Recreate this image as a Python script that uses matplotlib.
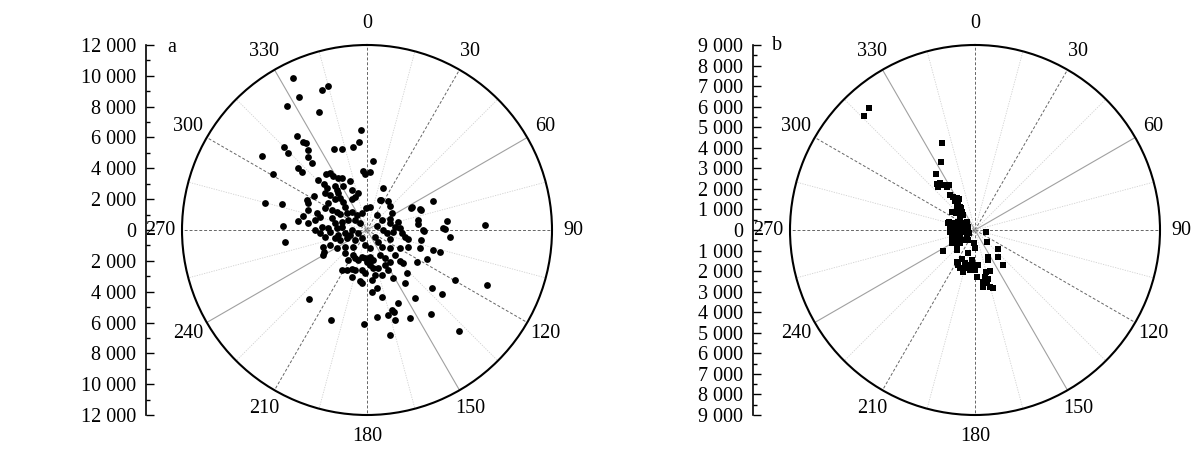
import numpy as np
import matplotlib.pyplot as plt
from matplotlib.ticker import MultipleLocator, FuncFormatter

# a: east / north offsets (m) of the points
east_a = [-4810, -2925, -2535, -4420, -5200, -3120, -390, -4550, -4160, -3965,
          -5395, -5135, -3835, -3835, -3575, -2145, -1625, -910, -520, -6825,
          390, -6110, -4485, -4225, -260, -130, -6630, -5525, -5460, -4485,
          4290, 2925, 3445, 5200, 4940, 5070, 7670, 1040, 845, 1365,
          1625, 3315, 3640, -3185, -2665, -2405, -2210, -1885, -1625, -1105,
          -1560, -2795, -2600, -2730, -2080, -1950, -1885, -975, -585, -3445,
          -3900, -3835, -2405, -2080, -1755, -1560, -1430, -2535, -2730, -2275,
          -1950, -975, -780, -3835, -3250, -3055, -3380, -3835, -4160, -1755,
          -1300, -975, -650, -325, 195, -65, -2275, -2080, -1625, -1235,
          -780, -455, -2925, -2535, -1950, -1625, -975, -3380, -3055, -5330,
          -2730, -2080, -1755, -1300, -780, -325, -2405, -1950, -1430, -910,
          -130, 195, 195, 910, 1495, 2860, 3510, 650, 975, 1495,
          1495, 2015, 1820, 2145, 650, 1040, 1300, 1690, 3315, 3705,
          5395, 2275, 2470, 2665, 1495, 715, 520, 3510, 975, 1495,
          2145, 2665, 3445, 4290, 4745, -2860, -2795, -2860, -1430, -1235,
          -910, -780, -585, -325, -130, 65, 195, 390, 0, 195,
          390, -1625, -1300, -975, -780, -325, -130, -975, -455, -325,
          325, 325, -3770, -2340, -195, 650, 1365, 1625, 1755, 2015,
          1495, 2795, 3120, 4225, 4160, 4875, 5980, 5720, 7800, 2600,
          2340, 3900, 3250, 2145, 1690, 2470, 650, 975, 1820, 845,
          1170, 1495, 1820, 1170, 715, 975, 1365, 520, -1105, -585,
          -1430, -2405, -1885]
north_a = [9880, 9100, 9360, 8645, 8060, 7670, 6500, 6110, 5720, 5655,
           5395, 5005, 5200, 4745, 4355, 5265, 5265, 5395, 5720, 4810,
           4485, 3640, 4030, 3770, 3835, 3640, 1755, 1690, 260, 585,
           1885, 1495, 1365, 585, 130, 65, 325, 2730, 1950, 1885,
           1105, 650, 0, 3250, 3640, 3705, 3510, 3380, 3380, 3185,
           2860, 2990, 2730, 2405, 2860, 2600, 2405, 2600, 2405, 2210,
           1950, 1755, 2275, 2015, 2080, 1820, 1495, 1755, 1430, 1300,
           1170, 2015, 2145, 1300, 1105, 845, 650, 455, 910, 1040,
           1105, 1170, 975, 1105, 1495, 1430, 780, 455, 520, 650,
           650, 455, 195, 130, 130, 195, 0, 0, -195, -780,
           -455, -520, -650, -520, -650, -520, -975, -1170, -1105, -1105,
           -975, -1170, 3770, 1950, 1560, 1430, 1300, 975, 650, 715,
           455, 520, 195, 130, 260, 0, -195, -130, 390, -65,
           -455, -195, -455, -585, -585, -780, -455, -650, -1105, -1170,
           -1170, -1105, -1170, -1300, -1430, -1105, -1430, -1625, -1495, -1950,
           -1625, -1820, -1950, -1755, -1820, -1885, -1755, -1950, -2080, -2275,
           -2470, -2600, -2600, -2535, -2600, -2600, -2795, -3055, -3315, -3445,
           -3250, -4030, -4485, -5850, -6110, -5655, -5525, -5200, -5330, -4745,
           -6825, -5720, -4420, -3770, -5460, -4160, -6565, -3250, -3575, -2795,
           -2145, -1885, -2080, -2015, -3120, -3445, -3770, -4355, -5850, -1625,
           -1820, -2080, -1625, -2275, -2470, -2925, -2600, -2925, -325, -195,
           -195, -130, -325]

# b: east / north offsets (m)
east_b = [-5152, -5395, -1604, -1652, -1895, -1847, -1701, -1507, -1361, -1264,
          -1798, -1215, -1069, -875, -972, -826, -875, -729, -1118, -923,
          -729, -583, -1264, -1069, -826, -583, -389, -1069, -826, -583,
          -340, -1215, -972, -729, -486, -292, -389, -1118, -875, -729,
          -972, -1118, -875, -729, -486, -340, -875, -1555, 535, 583,
          1118, 1118, 1361, -49, 0, -340, 632, 632, -875, -632,
          -486, -826, -729, -486, -340, -583, -146, -97, -243, 0,
          146, 97, 535, 729, 486, 632, 389, 583, 729, 389,
          875, -778, -680, -875, -632, -729, -1215, -1312]
north_b = [5929, 5540, 4228, 3305, 2722, 2236, 2284, 2187, 2090, 2187,
           2090, 1701, 1604, 1555, 1409, 1361, 1215, 1118, 875, 826,
           826, 729, 389, 340, 389, 340, 389, 146, 97, 97,
           146, -97, -97, -97, -97, -146, -292, -340, -340, -389,
           -583, -632, -729, -632, -486, -486, -972, -1021, -97, -583,
           -923, -1312, -1701, -632, -875, -1118, -1312, -1458, -1555, -1409,
           -1604, -1701, -1847, -1847, -1701, -2041, -1458, -1701, -1944, -1944,
           -1701, -2284, -2041, -1993, -2284, -2381, -2527, -2576, -2770, -2770,
           -2819, 1507, 1069, 972, 875, 583, 146, 340]

angle_labels = list(range(0, 360, 30))

plt.rcParams['font.family'] = 'Liberation Serif'
plt.rcParams['font.size'] = 14.5

W, H = 1193, 465
fig = plt.figure(figsize=(W / 100, H / 100), dpi=100)


def fmt(v, pos):
    return f"{abs(int(round(v))):,}".replace(',', ' ')


def draw_panel(cx, cy, rad, axis_x, rmax, major, minor, east, north,
               marker, size, letter, letter_xy):
    box = [(cx - rad) / W, (H - cy - rad) / H, 2 * rad / W, 2 * rad / H]
    ax = fig.add_axes(box, projection='polar')
    ax.set_theta_zero_location('N')
    ax.set_theta_direction(-1)
    ax.set_rlim(0, rmax)
    ax.set_yticks([])
    ax.grid(False)
    ax.set_xticks(np.deg2rad(angle_labels))
    ax.set_xticklabels([])
    ax.set_xticks(np.deg2rad(np.arange(15, 360, 30)), minor=True)
    ax.tick_params(axis='x', which='major', length=0)
    ax.tick_params(axis='x', which='minor', direction='in', length=7,
                   width=1.0, color='#444444')
    ax.spines['polar'].set_linewidth(1.5)

    # faint lines between the labelled directions
    for d in range(15, 360, 30):
        t = np.deg2rad(d)
        ax.plot([t, t], [0, rmax], color='#d0d0d0', lw=0.6,
                ls=(0, (1.5, 1.5)), zorder=1)
    # labelled directions
    styles = {0: 'dash', 30: 'dash', 60: 'solid', 90: 'dash',
              120: 'dash', 150: 'solid'}
    for d, st in styles.items():
        for dd in (d, d + 180):
            t = np.deg2rad(dd)
            if st == 'dash':
                ax.plot([t, t], [0, rmax], color='#666666', lw=0.7,
                        ls=(0, (3, 2)), zorder=1)
            else:
                ax.plot([t, t], [0, rmax], color='#a0a0a0', lw=0.8,
                        zorder=1)

    e = np.array(east, dtype=float)
    n = np.array(north, dtype=float)
    theta = np.arctan2(e, n)
    r = np.hypot(e, n)
    ax.scatter(theta, r, marker=marker, s=size, c='black', linewidths=0,
               zorder=3)

    for d in angle_labels:
        ax.text(np.deg2rad(d), rmax * 1.115, str(d), ha='center',
                va='center', clip_on=False)

    lax = fig.add_axes([axis_x / W, (H - cy - rad) / H, 0.0001, 2 * rad / H])
    lax.set_ylim(-rmax, rmax)
    for s in ['top', 'right', 'bottom']:
        lax.spines[s].set_visible(False)
    lax.spines['left'].set_linewidth(1.2)
    lax.set_xticks([])
    lax.yaxis.set_major_locator(MultipleLocator(major))
    lax.yaxis.set_minor_locator(MultipleLocator(minor))
    lax.yaxis.set_major_formatter(FuncFormatter(fmt))
    lax.tick_params(axis='y', which='major', direction='in', length=6,
                    width=1.0, pad=7)
    lax.tick_params(axis='y', which='minor', direction='in', length=3,
                    width=1.0)
    lax.patch.set_visible(False)

    fig.text(letter_xy[0] / W, 1 - letter_xy[1] / H, letter, ha='left',
             va='center')


draw_panel(367, 230, 185, 146, 12000, 2000, 1000, east_a, north_a,
           'o', 24, 'a', (167, 48))
draw_panel(975, 230, 185, 753, 9000, 1000, 500, east_b, north_b,
           's', 18, 'b', (772, 46))

fig.savefig('out.png', dpi=100)
